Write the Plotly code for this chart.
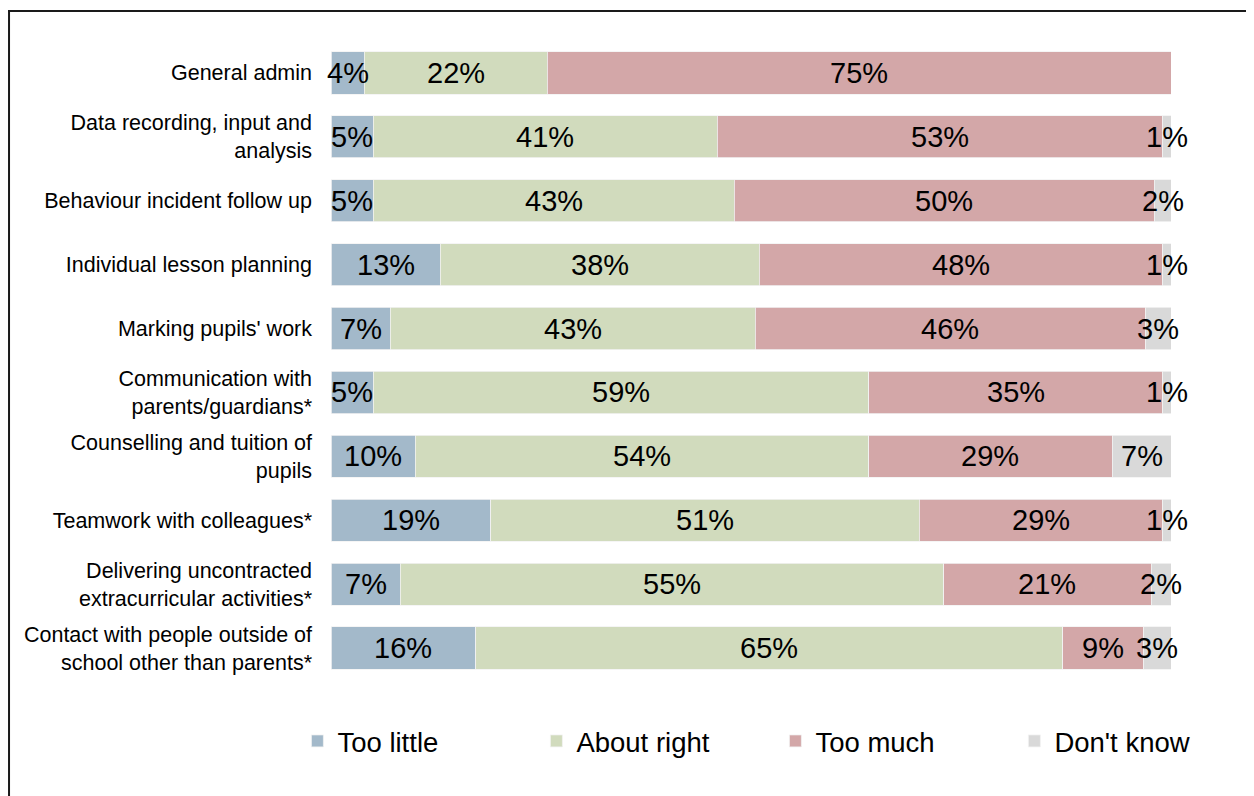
import plotly.graph_objects as go

categories = [
    "General admin",
    "Data recording, input and<br>analysis",
    "Behaviour incident follow up",
    "Individual lesson planning",
    "Marking pupils' work",
    "Communication with<br>parents/guardians*",
    "Counselling and tuition of<br>pupils",
    "Teamwork with colleagues*",
    "Delivering uncontracted<br>extracurricular activities*",
    "Contact with people outside of<br>school other than parents*",
]

too_little = [4, 5, 5, 13, 7, 5, 10, 19, 7, 16]
about_right = [22, 41, 43, 38, 43, 59, 54, 51, 55, 65]
too_much = [75, 53, 50, 48, 46, 35, 29, 29, 21, 9]
dont_know = [0, 1, 2, 1, 3, 1, 7, 1, 2, 3]

series = [
    ("Too little", too_little, "#A3B9CA"),
    ("About right", about_right, "#D1DBBD"),
    ("Too much", too_much, "#D3A7A8"),
    ("Don't know", dont_know, "#D9D9D9"),
]

fig = go.Figure()
for name, vals, colour in series:
    fig.add_trace(
        go.Bar(
            name=name,
            y=categories,
            x=vals,
            orientation="h",
            marker=dict(color=colour, line=dict(color="#F2F2F2", width=0.8)),
            hoverinfo="skip",
        )
    )

# percentage labels, centred on each (normalised) segment
totals = [sum(row) for row in zip(*[s[1] for s in series])]
annotations = []
for i, cat in enumerate(categories):
    start = 0.0
    for _, vals, _ in series:
        share = vals[i] / totals[i] * 100
        if vals[i]:
            annotations.append(
                dict(
                    x=start + share / 2,
                    y=cat,
                    xref="x",
                    yref="y",
                    text=f"{vals[i]}%",
                    showarrow=False,
                    xanchor="center",
                    yanchor="middle",
                    font=dict(size=29, color="black"),
                )
            )
        start += share

fig.update_layout(
    width=1254,
    height=796,
    barmode="stack",
    barnorm="percent",
    bargap=0.34,
    plot_bgcolor="white",
    paper_bgcolor="white",
    font=dict(family="Liberation Sans, Arial, sans-serif", color="black"),
    margin=dict(l=323, r=91, t=33, b=124),
    xaxis=dict(range=[0, 100], visible=False, fixedrange=True),
    yaxis=dict(
        autorange="reversed",
        showgrid=False,
        showline=False,
        ticks="",
        ticklabelstandoff=18,
        tickfont=dict(size=21.5),
    ),
    legend=dict(
        orientation="h",
        traceorder="normal",
        x=-0.04,
        xanchor="left",
        y=-0.0955,
        yanchor="middle",
        entrywidth=194,
        font=dict(size=27.5),
    ),
    annotations=annotations,
    shapes=[
        dict(
            type="rect",
            xref="paper",
            yref="paper",
            x0=-0.3833,
            x1=1.3,
            y0=-0.4,
            y1=1.047,
            line=dict(color="#1A1A1A", width=2),
            layer="below",
        )
    ],
)

fig.write_html("out.html")
